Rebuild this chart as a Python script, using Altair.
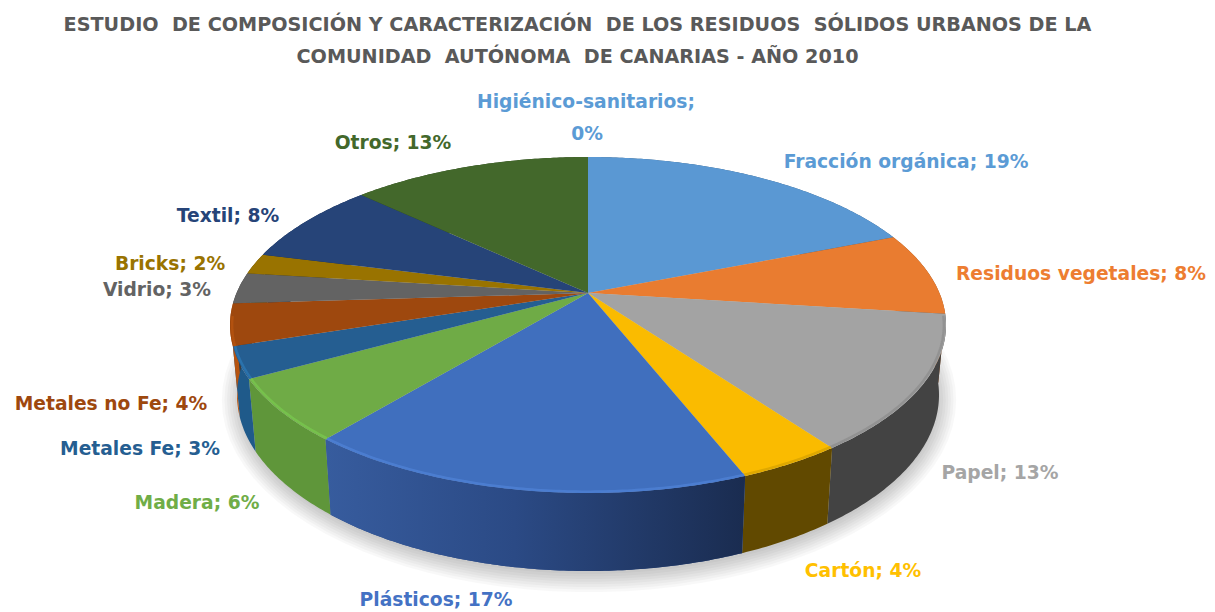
import numpy as np
import pandas as pd
import altair as alt

# ---- data ----
NAMES = ["Fracción orgánica", "Residuos vegetales", "Papel", "Cartón", "Plásticos", "Madera",
         "Metales Fe", "Metales no Fe", "Vidrio", "Bricks", "Textil", "Otros", "Higiénico-sanitarios"]
VALUES = [19, 8, 13, 4, 17, 6, 3, 4, 3, 2, 8, 13, 0]
TOP_COLORS = ["#5a98d3", "#e97c30", "#a3a3a3", "#fabb00", "#406fbe", "#6fab46",
              "#255e91", "#9e480e", "#636363", "#997300", "#264478", "#43682b", "#5b9bd5"]
WALL_COLORS = ["#365d80", "#8f4c1d", "#434343", "#614900", "#2b4a85", "#5f963a",
               "#1f5a8a", "#b5530f", "#3c3c3c", "#5c4500", "#172a4a", "#283f1a", "#365d80"]
RIM_COLORS = ["#5a98d3", "#c46a2a", "#8f8f8f", "#d9a500", "#4d80d4", "#78c44e",
              "#2c75b0", "#b5530f", "#636363", "#997300", "#264478", "#43682b", "#5b9bd5"]
LABEL_COLORS = ["#5b9bd5", "#ed7d31", "#a5a5a5", "#ffc000", "#4472c4", "#70ad47",
                "#255e91", "#9e480e", "#636363", "#997300", "#264478", "#43682b", "#5b9bd5"]
TITLE_LINES = ["ESTUDIO\u00a0 DE COMPOSICIÓN Y CARACTERIZACIÓN\u00a0 DE LOS RESIDUOS\u00a0 SÓLIDOS URBANOS DE LA",
               "COMUNIDAD\u00a0 AUTÓNOMA\u00a0 DE CANARIAS - AÑO 2010"]

# ---- layout of the perspective pie and its labels ----
CX, TOP_CY, TOP_RX, TOP_RY = 588, 325, 358, 168
BASE_CY, BASE_RX, BASE_RY = 395, 351, 176
TILT = -0.19
LABEL_POS = {
    "Fracción orgánica": (906, 162), "Residuos vegetales": (1081, 274), "Papel": (1000, 473),
    "Cartón": (863, 571), "Plásticos": (436, 600), "Madera": (197, 503), "Metales Fe": (140, 449),
    "Metales no Fe": (111, 404), "Vidrio": (157, 290), "Bricks": (170, 264), "Textil": (228, 216),
    "Otros": (393, 143),
}
HYGIENE_POS = [(586, 102), (587, 134)]


def project(theta):
    u0, v0 = np.sin(theta), -np.cos(theta)
    d = 1 + TILT * v0
    return u0 * np.sqrt(1 - TILT ** 2) / d, (v0 + TILT) / d


top_rows, wall_rows, rim_rows = [], [], []
cum = 0.0
for k, (name, val) in enumerate(zip(NAMES, VALUES)):
    if val == 0:
        continue
    th = np.radians(np.linspace(cum, cum + val, max(val * 6, 8)) * 3.6)
    cum += val
    u, v = project(th)
    rx, ry = CX + TOP_RX * u, TOP_CY + TOP_RY * v
    bx, by = CX + BASE_RX * u, BASE_CY + BASE_RY * v
    apex = (CX, TOP_CY + TOP_RY * TILT)
    tx = [apex[0], *rx, apex[0]]
    ty = [apex[1], *ry, apex[1]]
    for i, (a, b) in enumerate(zip(tx, ty)):
        top_rows.append(dict(name=name, i=i, x=a, y=b))
    wx = [*rx, *bx[::-1], rx[0]]
    wy = [*ry, *by[::-1], ry[0]]
    for i, (a, b) in enumerate(zip(wx, wy)):
        wall_rows.append(dict(name=name, i=i, x=a, y=b))
    for i, (a, b) in enumerate(zip(rx, ry)):
        if b > TOP_CY - 10:
            rim_rows.append(dict(name=name, i=i, x=CX + (a - CX) * 0.994, y=TOP_CY + (b - TOP_CY) * 0.992))

top_df = pd.DataFrame(top_rows)
wall_df = pd.DataFrame(wall_rows)
rim_df = pd.DataFrame(rim_rows)

sh_rows = []
t = np.radians(np.arange(0, 361, 4))
for k in range(8):
    for i, a in enumerate(t):
        sh_rows.append(dict(k=k, i=i, x=CX + 1 + (BASE_RX - 2 + k * 2.6) * np.cos(a),
                            y=BASE_CY + 5 + (BASE_RY - 2 + k * 2.6) * np.sin(a)))
sh_df = pd.DataFrame(sh_rows)

lab_rows = []
for name, val, col in zip(NAMES, VALUES, LABEL_COLORS):
    if name in LABEL_POS:
        x, y = LABEL_POS[name]
        lab_rows.append(dict(text=f"{name};\u00a0{val}%", x=x, y=y, c=col))
    else:
        lab_rows.append(dict(text=f"{name};", x=HYGIENE_POS[0][0], y=HYGIENE_POS[0][1], c=col))
        lab_rows.append(dict(text=f"{val}%", x=HYGIENE_POS[1][0], y=HYGIENE_POS[1][1], c=col))
lab_df = pd.DataFrame(lab_rows)

X = alt.X("x:Q", axis=None, scale=alt.Scale(domain=[8, 1207], nice=False, zero=False))
Y = alt.Y("y:Q", axis=None, scale=alt.Scale(domain=[604, 68], nice=False, zero=False))
names_scale = lambda cols: alt.Color("name:N", legend=None, scale=alt.Scale(domain=NAMES, range=cols))

shadow = alt.Chart(sh_df).mark_line(filled=True, color="#000000", opacity=0.028, strokeWidth=0).encode(
    x=X, y=Y, detail="k:N", order="i:Q")
walls = alt.Chart(wall_df).mark_line(filled=True, strokeWidth=0).encode(
    x=X, y=Y, fill=alt.Fill("name:N", legend=None, scale=alt.Scale(domain=NAMES, range=WALL_COLORS)),
    detail="name:N", order="i:Q")
plast_wall = alt.Chart(wall_df[wall_df.name == "Plásticos"]).mark_line(
    filled=True, strokeWidth=0,
    fill=alt.Gradient(gradient="linear", x1=0, x2=1, y1=0, y2=0,
                      stops=[alt.GradientStop(color="#375c9e", offset=0),
                             alt.GradientStop(color="#2b4a85", offset=0.45),
                             alt.GradientStop(color="#1a2c50", offset=1)])
).encode(x=X, y=Y, order="i:Q")
top = alt.Chart(top_df).mark_line(filled=True, strokeWidth=0).encode(
    x=X, y=Y, fill=alt.Fill("name:N", legend=None, scale=alt.Scale(domain=NAMES, range=TOP_COLORS)),
    detail="name:N", order="i:Q")
rim = alt.Chart(rim_df).mark_line(strokeWidth=2.5, opacity=0.85).encode(
    x=X, y=Y, color=names_scale(RIM_COLORS), detail="name:N", order="i:Q")
labels = alt.Chart(lab_df).mark_text(
    font="DejaVu Sans", fontWeight="bold", fontSize=18.7, align="center", baseline="middle"
).encode(x=X, y=Y, text="text:N", color=alt.Color("c:N", scale=None))

chart = alt.layer(shadow, walls, plast_wall, top, rim, labels).resolve_scale(
    color="independent", fill="independent"
).properties(
    width=1199, height=536,
    padding={"left": 0, "top": 60, "right": 0, "bottom": 7},
    autosize=alt.AutoSizeParams(type="none"),
    title=alt.TitleParams(text=TITLE_LINES, anchor="middle", dx=-30, font="DejaVu Sans", fontWeight="bold",
                          fontSize=19.2, lineHeight=32, color="#595959", offset=1),
).configure_view(stroke=None)

chart.save("out.html", embed_options={"renderer": "svg", "actions": False})
